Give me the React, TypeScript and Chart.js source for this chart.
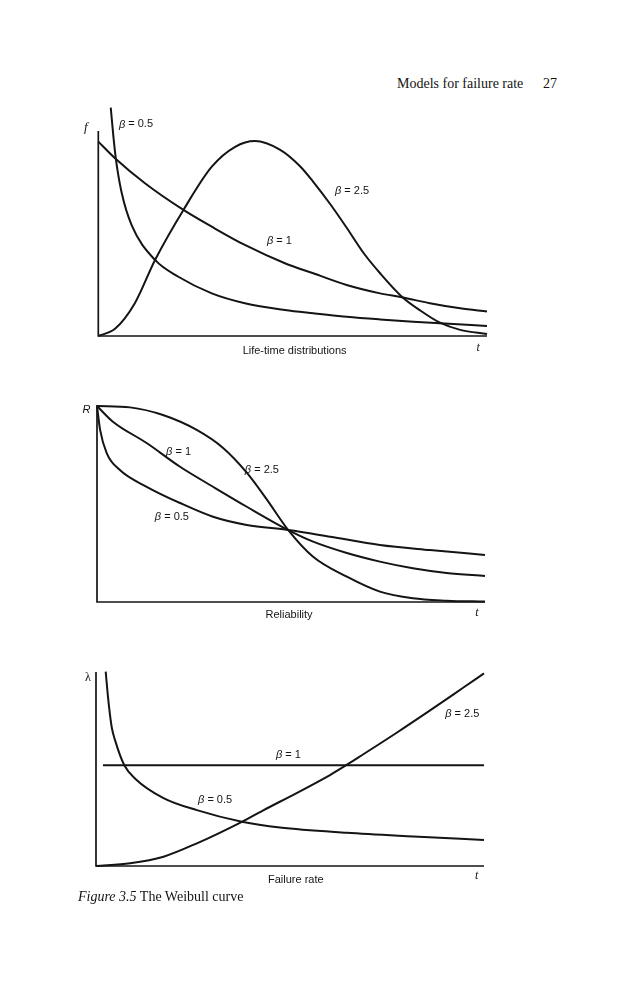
import React, { useEffect, useRef } from "react";
import { Chart, registerables } from "chart.js";

Chart.register(...registerables);

// ---------- Panel 1: life-time distributions f(t) ----------
const lifeT_b05 = [3.2, 3.9, 4.5, 6.0, 8.6, 14.6, 20.6, 29.2, 37.7, 48.0, 55.3, 63.9, 72.5, 81.0, 87.9, 100];
const lifeF_b05 = [111.4, 97.0, 86.7, 70.0, 54.0, 37.1, 28.9, 20.8, 16.0, 12.7, 11.1, 9.4, 8.1, 7.0, 6.2, 4.9];
const lifeT_b1 = [0, 4.3, 12.0, 21.9, 29.2, 37.7, 48.0, 55.3, 63.9, 72.5, 78.1, 85.3, 93.1, 100];
const lifeF_b1 = [94.8, 86.7, 74.5, 61.5, 53.3, 44.4, 35.5, 30.6, 24.9, 20.8, 18.9, 16.0, 13.5, 11.9];
const lifeT_b25 = [0, 4.3, 9.4, 14.6, 21.9, 29.2, 35.2, 40.3, 46.8, 51.9, 55.3, 59.6, 63.9, 68.2, 72.5, 78.1, 82.8, 87.9, 93.1, 100];
const lifeF_b25 = [0, 3.5, 16.0, 37.1, 61.5, 82.6, 92.3, 95.1, 90.8, 82.8, 75.2, 64.5, 52.8, 40.6, 30.6, 19.2, 12.5, 6.5, 3.0, 1.0];

// ---------- Panel 2: reliability R(t) ----------
const relT_b25 = [0, 8.5, 17.0, 25.7, 32.5, 38.6, 43.7, 49.3, 55.7, 64.4, 72.9, 81.4, 90.1, 100];
const relR_b25 = [100, 99.3, 95.4, 87.8, 78.6, 66.0, 52.5, 36.7, 23.1, 12.9, 5.3, 1.9, 0.7, 0.2];
const relT_b1 = [0, 4.1, 12.8, 21.4, 29.9, 38.6, 49.3, 55.7, 64.4, 72.9, 81.4, 90.1, 100];
const relR_b1 = [100, 92.0, 81.1, 69.0, 58.8, 48.6, 36.7, 30.8, 25.0, 20.6, 17.2, 14.8, 13.3];
const relT_b05 = [0, 0.8, 2.5, 5.9, 12.8, 21.4, 29.9, 38.6, 49.3, 60.1, 72.9, 85.8, 100];
const relR_b05 = [100, 87.8, 76.0, 67.3, 58.8, 50.5, 43.5, 39.3, 36.7, 33.3, 29.1, 26.5, 24.0];

// ---------- Panel 3: failure rate λ(t) ----------
const rateT_b05 = [2.5, 3.0, 3.6, 4.1, 4.9, 7.3, 10.1, 17.4, 26.0, 37.6, 47.4, 64.6, 81.8, 100];
const rateL_b05 = [100.2, 89.0, 78.0, 71.0, 64.9, 51.9, 45.0, 35.0, 28.8, 22.8, 19.8, 17.1, 15.2, 13.4];
const rateT_b1 = [1.8, 100];
const rateL_b1 = [51.9, 51.9];
const rateT_b25 = [0, 8.8, 17.4, 26.0, 37.6, 43.1, 51.7, 60.3, 64.6, 68.9, 77.5, 86.1, 94.7, 100];
const rateL_b25 = [0, 1.4, 4.8, 11.7, 22.8, 28.7, 37.6, 46.9, 52.1, 57.6, 68.7, 80.2, 92.0, 99.3];

const betaValues = ["0.5", "1", "2.5"];
const panelTitles = ["Life-time distributions", "Reliability", "Failure rate"];
const axisLetters = ["f", "R", "λ"];

const INK = "#141414";
const SANS = '"Liberation Sans", Arial, Helvetica, sans-serif';
const SERIF = '"Liberation Serif", "Times New Roman", serif';

type Label = { kind: "beta" | "title" | "t" | "axis"; text: string; x: number; y: number };

const axesPlugin = {
  id: "weibullAxes",
  beforeDatasetsDraw(chart: any, _args: any, opts: any) {
    const { ctx, scales } = chart;
    const xs = scales.x;
    const ys = scales.y;
    const x0 = xs.getPixelForValue(0);
    const x1 = xs.getPixelForValue(100);
    const y0 = ys.getPixelForValue(0);
    const yTop = ys.getPixelForValue(opts.yAxisTop);
    ctx.save();
    ctx.strokeStyle = INK;
    ctx.lineWidth = 1.7;
    ctx.lineCap = "butt";
    ctx.lineJoin = "miter";
    ctx.beginPath();
    ctx.moveTo(x0, yTop);
    ctx.lineTo(x0, y0);
    ctx.lineTo(x1, y0);
    ctx.stroke();
    ctx.restore();
  },
  afterDatasetsDraw(chart: any, _args: any, opts: any) {
    const { ctx, scales } = chart;
    const xs = scales.x;
    const ys = scales.y;
    ctx.save();
    ctx.fillStyle = INK;
    ctx.textBaseline = "middle";
    (opts.labels as Label[]).forEach((l) => {
      const px = xs.getPixelForValue(l.x);
      const py = ys.getPixelForValue(l.y);
      if (l.kind === "beta") {
        ctx.textAlign = "left";
        ctx.font = `italic 11px ${SANS}`;
        ctx.fillText("β", px, py);
        const w = ctx.measureText("β").width;
        ctx.font = `11px ${SANS}`;
        ctx.fillText(" = " + l.text, px + w, py);
      } else if (l.kind === "title") {
        ctx.textAlign = "center";
        ctx.font = `11px ${SANS}`;
        ctx.fillText(l.text, px, py);
      } else if (l.kind === "t") {
        ctx.textAlign = "center";
        ctx.font = `italic 12px ${SERIF}`;
        ctx.fillText(l.text, px, py);
      } else {
        ctx.textAlign = "center";
        ctx.font = l.text === "λ" ? `12px ${SERIF}` : l.text === "R" ? `italic 11px ${SANS}` : `italic 13px ${SERIF}`;
        ctx.fillText(l.text, px, py);
      }
    });
    ctx.restore();
  },
};

type Series = { t: number[]; v: number[] };
type PanelCfg = {
  left: number;
  top: number;
  w: number;
  h: number;
  padding: { left: number; right: number; top: number; bottom: number };
  yMax: number;
  yAxisTop: number;
  series: Series[];
  labels: Label[];
};

const panels: PanelCfg[] = [
  {
    left: 60,
    top: 90,
    w: 470,
    h: 280,
    padding: { left: 38.3, right: 43, top: 10.25, bottom: 34 },
    yMax: 115,
    yAxisTop: 100,
    series: [
      { t: lifeT_b05, v: lifeF_b05 },
      { t: lifeT_b1, v: lifeF_b1 },
      { t: lifeT_b25, v: lifeF_b25 },
    ],
    labels: [
      { kind: "axis", text: axisLetters[0], x: -3.2, y: 101.5 },
      { kind: "beta", text: betaValues[0], x: 5.3, y: 103.2 },
      { kind: "beta", text: betaValues[2], x: 60.9, y: 70.7 },
      { kind: "beta", text: betaValues[1], x: 43.4, y: 46.3 },
      { kind: "title", text: panelTitles[0], x: 50.5, y: -7.2 },
      { kind: "t", text: "t", x: 97.7, y: -5.9 },
    ],
  },
  {
    left: 60,
    top: 390,
    w: 470,
    h: 240,
    padding: { left: 37, right: 45, top: 12.08, bottom: 28 },
    yMax: 102,
    yAxisTop: 100.5,
    series: [
      { t: relT_b25, v: relR_b25 },
      { t: relT_b1, v: relR_b1 },
      { t: relT_b05, v: relR_b05 },
    ],
    labels: [
      { kind: "axis", text: axisLetters[1], x: -2.7, y: 98.0 },
      { kind: "beta", text: betaValues[1], x: 17.8, y: 76.7 },
      { kind: "beta", text: betaValues[2], x: 38.1, y: 67.3 },
      { kind: "beta", text: betaValues[0], x: 14.9, y: 43.5 },
      { kind: "title", text: panelTitles[1], x: 49.5, y: -6.6 },
      { kind: "t", text: "t", x: 97.9, y: -5.6 },
    ],
  },
  {
    left: 60,
    top: 655,
    w: 470,
    h: 235,
    padding: { left: 36, right: 46, top: 11.18, bottom: 24 },
    yMax: 103,
    yAxisTop: 100,
    series: [
      { t: rateT_b05, v: rateL_b05 },
      { t: rateT_b1, v: rateL_b1 },
      { t: rateT_b25, v: rateL_b25 },
    ],
    labels: [
      { kind: "axis", text: axisLetters[2], x: -2.1, y: 96.9 },
      { kind: "beta", text: betaValues[2], x: 90.0, y: 78.4 },
      { kind: "beta", text: betaValues[1], x: 46.4, y: 57.2 },
      { kind: "beta", text: betaValues[0], x: 26.3, y: 34.0 },
      { kind: "title", text: panelTitles[2], x: 51.5, y: -7.2 },
      { kind: "t", text: "t", x: 98.1, y: -5.2 },
    ],
  },
];

function Panel({ cfg }: { cfg: PanelCfg }) {
  const ref = useRef<HTMLCanvasElement>(null);
  useEffect(() => {
    if (!ref.current) return;
    const chart = new Chart(ref.current, {
      type: "line",
      data: {
        datasets: cfg.series.map((s) => ({
          data: s.t.map((t, i) => ({ x: t, y: s.v[i] })),
          borderColor: INK,
          borderWidth: 2,
          pointRadius: 0,
          fill: false,
          cubicInterpolationMode: "monotone" as const,
          clip: false as any,
        })),
      },
      options: {
        responsive: false,
        maintainAspectRatio: false,
        animation: false,
        events: [],
        layout: { padding: cfg.padding },
        scales: {
          x: { type: "linear", display: false, min: 0, max: 100 },
          y: { type: "linear", display: false, min: 0, max: cfg.yMax },
        },
        plugins: {
          legend: { display: false },
          tooltip: { enabled: false },
          weibullAxes: { yAxisTop: cfg.yAxisTop, labels: cfg.labels },
        } as any,
      },
      plugins: [axesPlugin],
    });
    return () => chart.destroy();
  }, [cfg]);
  return (
    <canvas
      ref={ref}
      width={cfg.w}
      height={cfg.h}
      style={{ position: "absolute", left: cfg.left, top: cfg.top, width: cfg.w, height: cfg.h }}
    />
  );
}

export default function App() {
  return (
    <div style={{ position: "absolute", left: 0, top: 0, width: 635, height: 1000, background: "#fff", overflow: "hidden" }}>
      <div
        style={{
          position: "absolute",
          left: 397,
          top: 77,
          font: `14px ${SERIF}`,
          lineHeight: "14px",
          color: INK,
          whiteSpace: "nowrap",
        }}
      >
        Models for failure rate
      </div>
      <div
        style={{
          position: "absolute",
          left: 543,
          top: 77,
          font: `14px ${SERIF}`,
          lineHeight: "14px",
          color: INK,
          whiteSpace: "nowrap",
        }}
      >
        27
      </div>
      {panels.map((p, i) => (
        <Panel key={i} cfg={p} />
      ))}
      <div
        style={{
          position: "absolute",
          left: 78,
          top: 890,
          font: `14px ${SERIF}`,
          lineHeight: "14px",
          color: INK,
          whiteSpace: "nowrap",
        }}
      >
        <i>Figure 3.5</i> The Weibull curve
      </div>
    </div>
  );
}
